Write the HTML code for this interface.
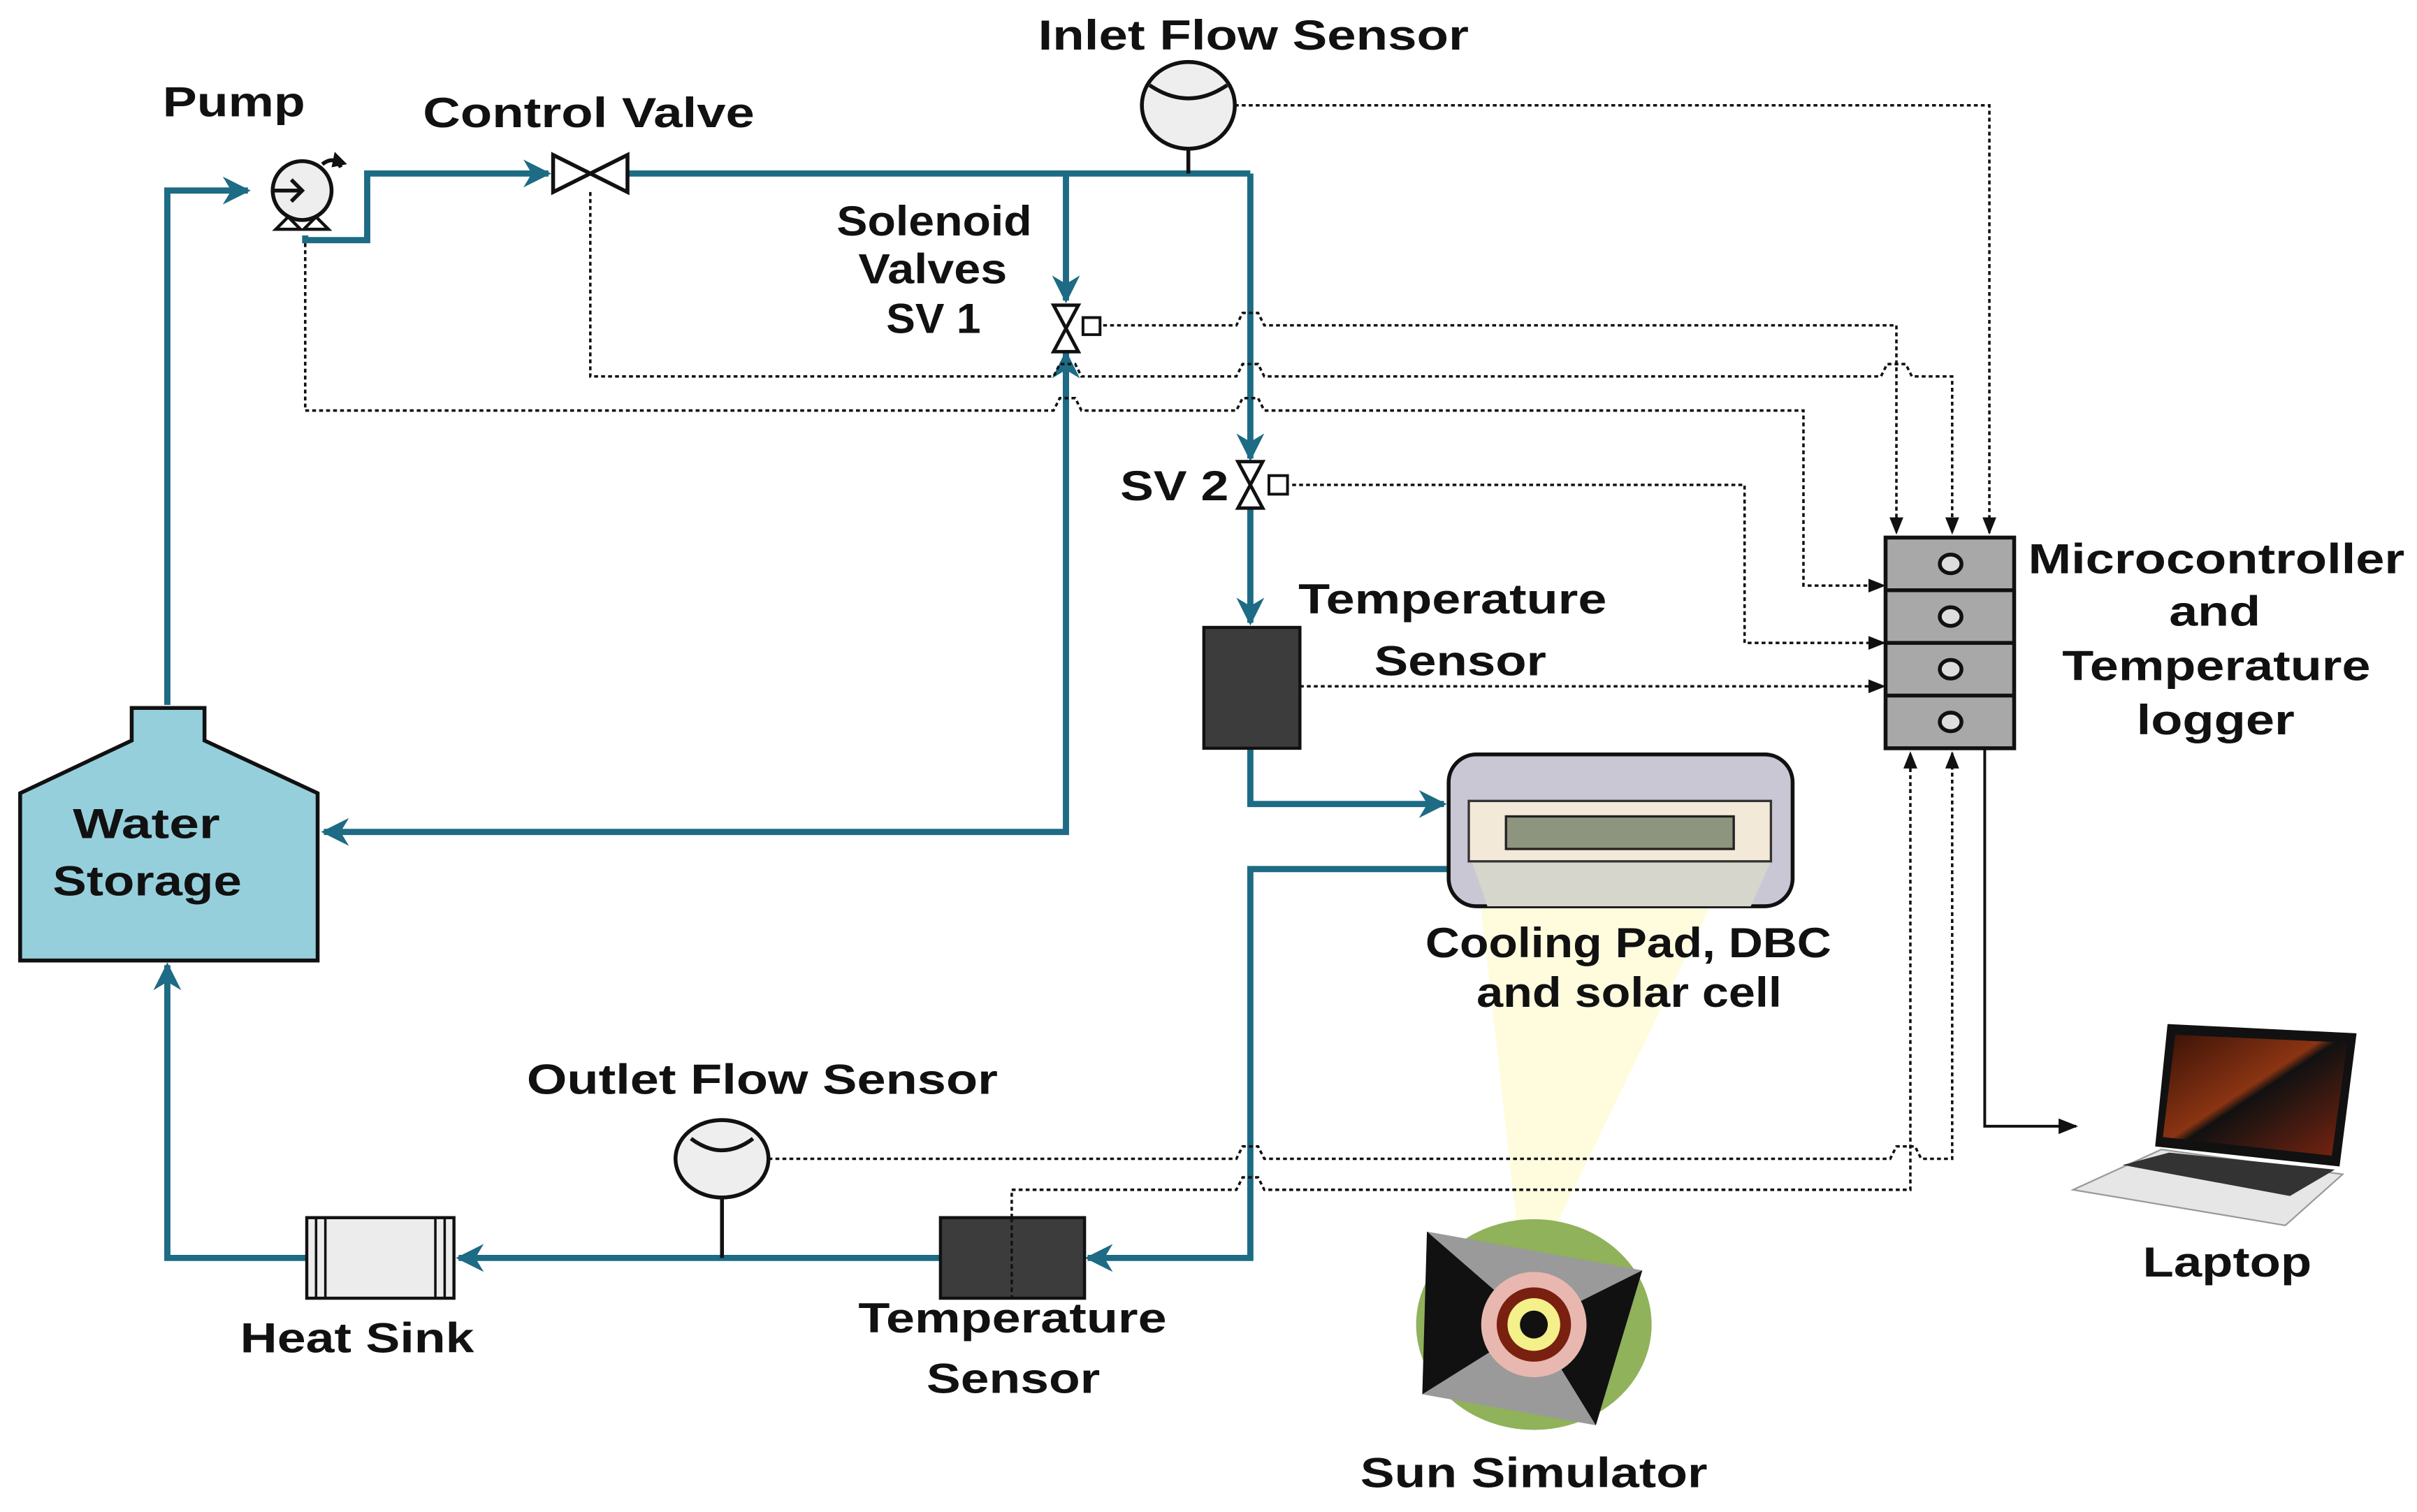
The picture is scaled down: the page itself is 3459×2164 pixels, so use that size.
<!DOCTYPE html>
<html><head><meta charset="utf-8"><style>
html,body{margin:0;padding:0;background:#fff;}
svg{display:block;}
text{font-family:"Liberation Sans",Arial,sans-serif;font-weight:bold;fill:#111;}
</style></head><body>
<svg width="3459" height="2164" viewBox="0 0 1560 976" preserveAspectRatio="none" xmlns="http://www.w3.org/2000/svg">
<defs>
<marker id="ta" viewBox="0 0 10 10" refX="9" refY="5" markerWidth="4.5" markerHeight="4.5" orient="auto"><path d="M0,0 L10,5 L0,10 L3,5 z" fill="#1d6b84"/></marker>
<marker id="ba" viewBox="0 0 10 10" refX="9" refY="5" markerWidth="7" markerHeight="7" orient="auto"><path d="M0,1 L10,5 L0,9 z" fill="#111"/></marker>
<linearGradient id="scr" x1="0" y1="0" x2="1" y2="1"><stop offset="0" stop-color="#3a1208"/><stop offset="0.45" stop-color="#8a3412"/><stop offset="0.5" stop-color="#111"/><stop offset="1" stop-color="#7a2410"/></linearGradient>
</defs>

<polygon points="945,490 1150,490 1000,800 980,800" fill="#fffbd6" opacity="0.8"/>

<polygon points="85,457 132,457 132,478 205,512 205,620 13,620 13,512 85,478" fill="#96cfdc" stroke="#111" stroke-width="2.5"/>

<g fill="none" stroke="#1d6b84" stroke-width="4">
<polyline points="108,455 108,123 160,123" marker-end="url(#ta)"/>
<polyline points="197,152 197,155 237,155 237,112 354,112" marker-end="url(#ta)"/>
<line x1="405" y1="112" x2="807" y2="112"/>
<polyline points="688,112 688,194" marker-end="url(#ta)"/>
<polyline points="688,227 688,537 209,537" marker-end="url(#ta)"/>
<polyline points="688,260 688,228" marker-end="url(#ta)"/>
<polyline points="807,112 807,296" marker-end="url(#ta)"/>
<polyline points="807,328 807,402" marker-end="url(#ta)"/>
<polyline points="807,483 807,519 932,519" marker-end="url(#ta)"/>
<polyline points="935,561 807,561 807,812 702,812" marker-end="url(#ta)"/>
<polyline points="607,812 296,812" marker-end="url(#ta)"/>
<polyline points="198,812 108,812 108,623" marker-end="url(#ta)"/>
</g>

<g fill="none" stroke="#111" stroke-width="1.6" stroke-dasharray="2.5,2">
<polyline points="797,68 1284,68 1284,344" marker-end="url(#ba)"/>
<polyline points="712,210 798,210 802,202 812,202 816,210 1224,210 1224,344" marker-end="url(#ba)"/>
<polyline points="381,124 381,243 680,243 684,235 694,235 698,243 798,243 802,235 812,235 816,243 1214,243 1218,235 1230,235 1234,243 1260,243 1260,344" marker-end="url(#ba)"/>
<polyline points="197,157 197,265 680,265 684,257 694,257 698,265 798,265 802,257 812,257 816,265 1164,265 1164,378 1216,378" marker-end="url(#ba)"/>
<polyline points="834,313 1126,313 1126,415 1216,415" marker-end="url(#ba)"/>
<polyline points="839,443 1216,443" marker-end="url(#ba)"/>
<polyline points="496,748 798,748 802,740 812,740 816,748 1220,748 1224,740 1236,740 1240,748 1260,748 1260,486" marker-end="url(#ba)"/>
<polyline points="653,786 653,768 798,768 802,760 812,760 816,768 1233,768 1233,486" marker-end="url(#ba)"/>
</g>
<polyline points="1281,483 1281,727 1340,727" fill="none" stroke="#111" stroke-width="1.8" marker-end="url(#ba)"/>

<ellipse cx="195" cy="123" rx="19" ry="19" fill="#eee" stroke="#111" stroke-width="2.5"/>
<path d="M178,148 L186,140 L194,148 Z M196,148 L204,140 L212,148 Z" fill="#fff" stroke="#111" stroke-width="2"/>
<path d="M177,123 L194,123 M188,116 L195,123 L188,130" stroke="#111" stroke-width="2.5" fill="none"/>
<path d="M208,106 Q216,100 220,108" stroke="#111" stroke-width="2.5" fill="none"/>
<path d="M216,98 L224,106 L214,108 Z" fill="#111"/>

<path d="M357,100 L405,124 L405,100 L357,124 Z" fill="#fff" stroke="#111" stroke-width="2.5"/>

<ellipse cx="767" cy="68" rx="30" ry="28" fill="#eee" stroke="#111" stroke-width="2.5"/>
<path d="M742,55 Q767,72 792,55" fill="none" stroke="#111" stroke-width="2.5"/>
<line x1="767" y1="96" x2="767" y2="112" stroke="#111" stroke-width="2.5"/>

<path d="M680,197 L696,197 L680,227 L696,227 Z" fill="#fff" stroke="#111" stroke-width="2.2"/>
<rect x="699" y="205" width="11" height="11" fill="#fff" stroke="#111" stroke-width="1.8"/>
<path d="M799,298 L815,298 L799,328 L815,328 Z" fill="#fff" stroke="#111" stroke-width="2.2"/>
<rect x="819" y="307" width="12" height="12" fill="#fff" stroke="#111" stroke-width="1.8"/>

<rect x="777" y="405" width="62" height="78" fill="#3c3c3c" stroke="#111" stroke-width="2"/>

<rect x="935" y="487" width="222" height="98" rx="18" fill="#c9c7d3" stroke="#111" stroke-width="2.5"/>
<polygon points="950,556 1143,556 1130,585 960,585" fill="#d6d6cc"/>
<rect x="948" y="517" width="195" height="39" fill="#f3e9d8" stroke="#333" stroke-width="1.5"/>
<rect x="972" y="527" width="147" height="21" fill="#8e957f" stroke="#222" stroke-width="1.5"/>

<g stroke="#111" stroke-width="2.5">
<rect x="1217" y="347" width="83" height="136" fill="#a8a8a8"/>
<line x1="1217" y1="381" x2="1300" y2="381"/>
<line x1="1217" y1="415" x2="1300" y2="415"/>
<line x1="1217" y1="449" x2="1300" y2="449"/>
</g>
<g fill="#ddd" stroke="#111" stroke-width="2.5">
<ellipse cx="1259" cy="364" rx="7" ry="6"/><ellipse cx="1259" cy="398" rx="7" ry="6"/>
<ellipse cx="1259" cy="432" rx="7" ry="6"/><ellipse cx="1259" cy="466" rx="7" ry="6"/>
</g>

<rect x="607" y="786" width="93" height="52" fill="#3c3c3c" stroke="#111" stroke-width="2"/>
<line x1="653" y1="786" x2="653" y2="838" stroke="#111" stroke-width="1.5" stroke-dasharray="3,2"/>

<rect x="198" y="786" width="95" height="52" fill="#ececec" stroke="#111" stroke-width="2"/>
<g stroke="#111" stroke-width="1.6"><line x1="204" y1="786" x2="204" y2="838"/><line x1="210" y1="786" x2="210" y2="838"/><line x1="281" y1="786" x2="281" y2="838"/><line x1="287" y1="786" x2="287" y2="838"/></g>

<ellipse cx="466" cy="748" rx="30" ry="25" fill="#eee" stroke="#111" stroke-width="2.5"/>
<path d="M446,735 Q466,750 486,735" fill="none" stroke="#111" stroke-width="2.5"/>
<line x1="466" y1="773" x2="466" y2="812" stroke="#111" stroke-width="2.5"/>

<ellipse cx="990" cy="855" rx="76" ry="68" fill="#8fb25a"/>
<polygon points="921,795 1060,820 1030,920 918,900" fill="#9a9a9a"/>
<polygon points="921,795 990,855 918,900" fill="#111"/>
<polygon points="1060,820 990,855 1030,920" fill="#111"/>
<circle cx="990" cy="855" r="34" fill="#e8b8b0"/>
<circle cx="990" cy="855" r="24" fill="#7a2010"/>
<circle cx="990" cy="855" r="17" fill="#f4f08a"/>
<circle cx="990" cy="855" r="9" fill="#111"/>

<polygon points="1338,768 1395,742 1512,758 1475,791" fill="#e6e6e6" stroke="#999" stroke-width="1"/>
<polygon points="1370,752 1400,744 1507,755 1478,772" fill="#333"/>
<polygon points="1399,661 1521,667 1510,753 1391,740" fill="#111"/>
<polygon points="1404,668 1515,673 1505,746 1396,734" fill="url(#scr)"/>

<g font-size="27" lengthAdjust="spacingAndGlyphs">
<text x="105" y="75" textLength="92" lengthAdjust="spacingAndGlyphs">Pump</text>
<text x="273" y="82" textLength="214" lengthAdjust="spacingAndGlyphs">Control Valve</text>
<text x="670" y="32" textLength="278" lengthAdjust="spacingAndGlyphs">Inlet Flow Sensor</text>
<text x="540" y="152" textLength="126" lengthAdjust="spacingAndGlyphs">Solenoid</text>
<text x="554" y="183" textLength="96" lengthAdjust="spacingAndGlyphs">Valves</text>
<text x="572" y="215" textLength="61" lengthAdjust="spacingAndGlyphs">SV 1</text>
<text x="723" y="323" textLength="70" lengthAdjust="spacingAndGlyphs">SV 2</text>
<text x="838" y="396" textLength="199" lengthAdjust="spacingAndGlyphs">Temperature</text>
<text x="887" y="436" textLength="111" lengthAdjust="spacingAndGlyphs">Sensor</text>
<text x="1309" y="370" textLength="243" lengthAdjust="spacingAndGlyphs">Microcontroller</text>
<text x="1400" y="404" textLength="59" lengthAdjust="spacingAndGlyphs">and</text>
<text x="1331" y="439" textLength="199" lengthAdjust="spacingAndGlyphs">Temperature</text>
<text x="1379" y="474" textLength="102" lengthAdjust="spacingAndGlyphs">logger</text>
<text x="47" y="541" textLength="95" lengthAdjust="spacingAndGlyphs">Water</text>
<text x="34" y="578" textLength="122" lengthAdjust="spacingAndGlyphs">Storage</text>
<text x="920" y="618" textLength="262" lengthAdjust="spacingAndGlyphs">Cooling Pad, DBC</text>
<text x="953" y="650" textLength="197" lengthAdjust="spacingAndGlyphs">and solar cell</text>
<text x="340" y="706" textLength="304" lengthAdjust="spacingAndGlyphs">Outlet Flow Sensor</text>
<text x="155" y="873" textLength="151" lengthAdjust="spacingAndGlyphs">Heat Sink</text>
<text x="554" y="860" textLength="199" lengthAdjust="spacingAndGlyphs">Temperature</text>
<text x="598" y="899" textLength="112" lengthAdjust="spacingAndGlyphs">Sensor</text>
<text x="878" y="960" textLength="224" lengthAdjust="spacingAndGlyphs">Sun Simulator</text>
<text x="1383" y="824" textLength="109" lengthAdjust="spacingAndGlyphs">Laptop</text>
</g>
</svg>
</body></html>
